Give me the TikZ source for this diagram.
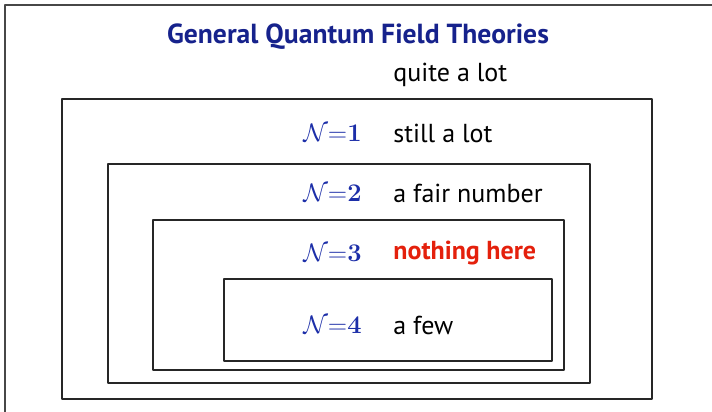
\RequirePackage{fix-cm}
\documentclass[tikz,border=0pt]{standalone}
\usepackage[no-math]{fontspec}
\setmainfont{PT Sans}
\usepackage{tikz}
\usetikzlibrary{positioning}
\definecolor{headblue}{RGB}{22,34,140}
\definecolor{susyblue}{RGB}{28,46,168}
\definecolor{alertred}{RGB}{228,32,12}
\begin{document}
\begin{tikzpicture}[x=.5pt,y=-.5pt,line cap=round,line join=round,
  frame/.style={draw=black!72,line width=.6pt},
  shell/.style={draw=black!85,line width=.55pt},
  tag/.style={font=\fontsize{12.7}{15}\selectfont,text=susyblue,inner sep=0pt,anchor=east},
  note/.style={font=\fontsize{13}{15}\selectfont,inner sep=0pt,anchor=west}]
\useasboundingbox (0,0) rectangle (712,412);
% Slide frame.
\draw[frame](5,412)--(5,5)--(712,5);

% Nested shells, one per amount of supersymmetry.
\draw[shell](62,99) rectangle (652,399);
\draw[shell](108,164) rectangle (590,383);
\draw[shell](153,220) rectangle (564,370);
\draw[shell](224,279) rectangle (552,361);

% Headings.
\node[font=\fontsize{13.8}{16}\selectfont\bfseries,text=headblue] (title) at (358,37) {General Quantum Field Theories};
\node[note] (qft) at (393,75) {quite a lot};

% Labels inside the shells.
\node[tag] (n1) at (362,133) {$\mathcal{N}{=}\mathbf{1}$};
\node[note,right=15.5pt of n1] (c1) {still a lot};
\node[tag] (n2) at (362,193) {$\mathcal{N}{=}\mathbf{2}$};
\node[note,right=15.5pt of n2] (c2) {a fair number};
\node[tag] (n3) at (362,253) {$\mathcal{N}{=}\mathbf{3}$};
\node[note,right=15.5pt of n3,font=\fontsize{13}{15}\selectfont\bfseries,text=alertred] (c3) {nothing here};
\node[tag] (n4) at (362,325) {$\mathcal{N}{=}\mathbf{4}$};
\node[note,right=15.5pt of n4] (c4) {a few};
\end{tikzpicture}
\end{document}
